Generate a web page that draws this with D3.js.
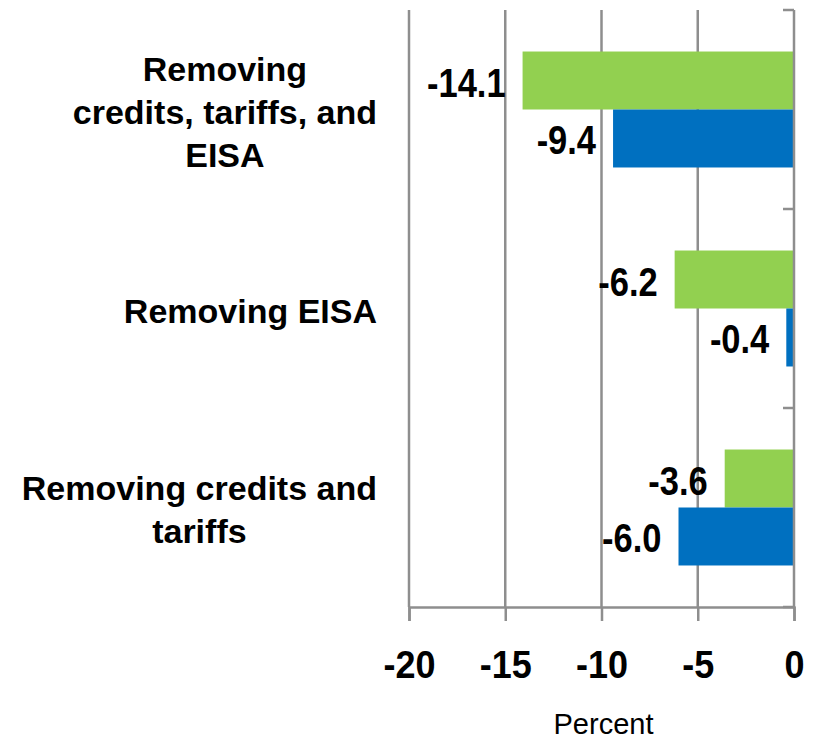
<!DOCTYPE html>
<html>
<head>
<meta charset="utf-8">
<script src="https://cdn.jsdelivr.net/npm/d3@7"></script>
<style>
  html, body { margin: 0; padding: 0; background: #ffffff; }
  svg { display: block; }
  text { font-family: "Liberation Sans", Arial, sans-serif; fill: #000; }
</style>
</head>
<body>
<svg id="chart" width="813" height="741"></svg>
<script>
// Categories, top to bottom; each label is split into its display lines
const categories = [
  "Removing credits, tariffs, and EISA",
  "Removing EISA",
  "Removing credits and tariffs"
];
const categoryLines = [
  ["Removing", "credits, tariffs, and", "EISA"],
  ["Removing EISA"],
  ["Removing credits and", "tariffs"]
];
// Two series per category (upper green bar, lower blue bar), percent change
const seriesNames = ["green", "blue"];
const greenValues = [-14.1, -6.2, -3.6];
const blueValues = [-9.4, -0.4, -6.0];
const xTicks = [-20, -15, -10, -5, 0];
const xTitle = "Percent";

const colors = { green: "#92D050", blue: "#0070C0" };
const gridColor = "#8e8e8e";

const svg = d3.select("#chart");

const x = d3.scaleLinear().domain([-20, 0]).range([409, 794]);
const y = d3.scaleBand().domain(categories).range([10, 607]).paddingInner(0).paddingOuter(0);
const ySub = d3.scaleBand().domain(seriesNames).range([0, y.bandwidth()])
  .paddingInner(0).paddingOuter(0.716);

const rows = categories.map((c, i) => ({
  category: c,
  lines: categoryLines[i],
  values: [
    { key: "green", value: greenValues[i] },
    { key: "blue", value: blueValues[i] }
  ]
}));

// Vertical gridlines (behind bars)
svg.append("g")
  .selectAll("line")
  .data(xTicks.filter(t => t !== 0))
  .join("line")
  .attr("x1", d => x(d)).attr("x2", d => x(d))
  .attr("y1", y.range()[0]).attr("y2", y.range()[1])
  .attr("stroke", gridColor)
  .attr("stroke-width", 2.5);

// Bars
const groups = svg.append("g")
  .selectAll("g")
  .data(rows)
  .join("g")
  .attr("transform", d => `translate(0,${y(d.category)})`);

groups.selectAll("rect")
  .data(d => d.values)
  .join("rect")
  .attr("x", d => x(Math.min(0, d.value)))
  .attr("width", d => Math.abs(x(d.value) - x(0)))
  .attr("y", d => ySub(d.key))
  .attr("height", ySub.bandwidth())
  .attr("fill", d => colors[d.key]);

// Value labels, right-aligned just left of each bar end
groups.selectAll("text.value")
  .data(d => d.values)
  .join("text")
  .attr("class", "value")
  .attr("text-anchor", "end")
  .attr("font-weight", "bold")
  .attr("font-size", 34.5)
  .attr("transform", d =>
    `translate(${x(d.value) - 17},${ySub(d.key) + ySub.bandwidth() / 2 + 16}) scale(1,1.17)`)
  .text(d => d.value.toFixed(1));

// Bottom axis
const xAxis = d3.axisBottom(x)
  .tickValues(xTicks)
  .tickFormat(d => String(d))
  .tickSizeOuter(0)
  .tickSize(14);

const gx = svg.append("g")
  .attr("transform", `translate(0,${y.range()[1]})`)
  .call(xAxis);
gx.select(".domain").attr("stroke", gridColor).attr("stroke-width", 2.5);
gx.selectAll(".tick line").attr("stroke", gridColor).attr("stroke-width", 2.5);
gx.selectAll(".tick text")
  .attr("y", 0).attr("dy", 0)
  .attr("fill", "#000")
  .attr("font-family", "Liberation Sans, Arial, sans-serif")
  .attr("font-weight", "bold")
  .attr("font-size", 36)
  .attr("transform", "translate(0,71) scale(1,1.08)");

// Zero axis on the right with inward ticks at category boundaries
const boundaries = categories.map(c => y(c)).concat([y.range()[1]]);
const gy = svg.append("g");
gy.append("line")
  .attr("x1", x(0)).attr("x2", x(0))
  .attr("y1", y.range()[0]).attr("y2", y.range()[1])
  .attr("stroke", gridColor).attr("stroke-width", 2.5);
gy.selectAll("line.tk")
  .data(boundaries)
  .join("line")
  .attr("class", "tk")
  .attr("x1", x(0) - 11).attr("x2", x(0))
  .attr("y1", d => d).attr("y2", d => d)
  .attr("stroke", gridColor).attr("stroke-width", 2.5);

// Category labels: lines centered within a block right-aligned to the plot
const labelRight = 377;
const lineGap = 43;
rows.forEach(r => {
  const cy = y(r.category) + y.bandwidth() / 2;
  const n = r.lines.length;
  const g = svg.append("g");
  const texts = g.selectAll("text")
    .data(r.lines)
    .join("text")
    .attr("font-weight", "bold")
    .attr("font-size", 34)
    .attr("text-anchor", "middle")
    .attr("y", (d, i) => cy + 14 + (i - (n - 1) / 2) * lineGap)
    .text(d => d);
  const widest = d3.max(texts.nodes(), t => t.getComputedTextLength());
  texts.attr("x", labelRight - widest / 2);
});

// Axis title
svg.append("text")
  .attr("x", (x.range()[0] + x.range()[1]) / 2 + 2)
  .attr("y", 734)
  .attr("text-anchor", "middle")
  .attr("font-size", 29)
  .text(xTitle);
</script>
</body>
</html>
